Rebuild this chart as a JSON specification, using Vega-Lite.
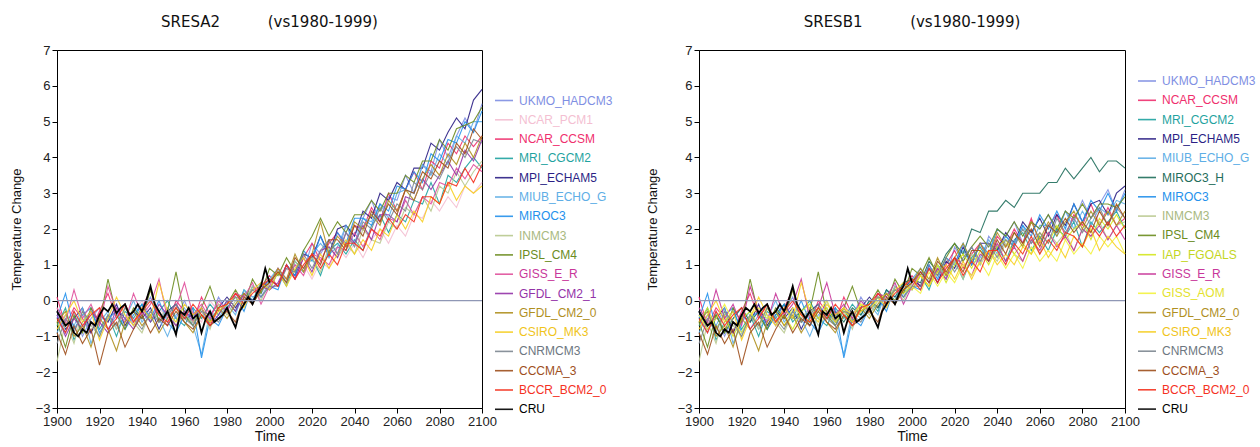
{
"$schema":"https://vega.github.io/schema/vega-lite/v6.json",
"padding":{"left":9,"top":14,"right":0,"bottom":0},
"background":"white",
"config":{
 "view":{"stroke":"#000","strokeWidth":1},
 "font":"Liberation Sans",
 "axis":{"domainColor":"#000","domainWidth":1,"tickColor":"#000","tickSize":5,"labelFont":"Liberation Sans","labelFontSize":13,"labelColor":"#222","titleFont":"Liberation Sans","titleFontWeight":"normal","titleColor":"#111","grid":false,"labelPadding":2,"labelOverlap":false},
 "axisX":{"titleFontSize":14,"titlePadding":1,"labelFlush":false},
 "axisY":{"titleFontSize":13,"titlePadding":12},
 "title":{"font":"DejaVu Sans","fontSize":15,"fontWeight":"normal","color":"#111","anchor":"middle","baseline":"alphabetic","offset":14},
 "legend":{"orient":"none","symbolType":"stroke","symbolSize":324,"symbolStrokeWidth":1.6,"labelFont":"Liberation Sans","labelFontSize":12,"labelOffset":5,"clipHeight":19,"rowPadding":0.3,"padding":0,"labelLimit":200,
  "labelColor":{"expr":"['#7f8fe3','#f4bfd2','#ef2f6e','#1fa3a0','#2b1f85','#5eaee6','#1f6e5c','#2491ec','#a9b97f','#6b8c1e','#c4d61e','#c8379a','#e3e22e','#9333a8','#b0901f','#f0c41a','#6d7781','#9e4f1c','#f5321f','#000000'][indexof(['UKMO_HADCM3','NCAR_PCM1','NCAR_CCSM','MRI_CGCM2','MPI_ECHAM5','MIUB_ECHO_G','MIROC3_H','MIROC3','INMCM3','IPSL_CM4','IAP_FGOALS','GISS_E_R','GISS_AOM','GFDL_CM2_1','GFDL_CM2_0','CSIRO_MK3','CNRMCM3','CCCMA_3','BCCR_BCM2_0','CRU'], datum.value)]"}}
},
"datasets":{
 "names":[{"k":"a","name":"UKMO_HADCM3"},{"k":"b","name":"NCAR_PCM1"},{"k":"c","name":"NCAR_CCSM"},{"k":"d","name":"MRI_CGCM2"},{"k":"e","name":"MPI_ECHAM5"},{"k":"f","name":"MIUB_ECHO_G"},{"k":"g","name":"MIROC3"},{"k":"h","name":"INMCM3"},{"k":"i","name":"IPSL_CM4"},{"k":"j","name":"GISS_E_R"},{"k":"k","name":"GFDL_CM2_1"},{"k":"l","name":"GFDL_CM2_0"},{"k":"m","name":"CSIRO_MK3"},{"k":"n","name":"CNRMCM3"},{"k":"o","name":"CCCMA_3"},{"k":"p","name":"BCCR_BCM2_0"},{"k":"q","name":"MIROC3_H"},{"k":"r","name":"IAP_FGOALS"},{"k":"s","name":"GISS_AOM"}],
 "runs":[
  {"sc":"H","t":1900,"a":-0.4,"b":-0.2,"c":0.1,"d":-0.7,"e":-0.3,"f":-0.9,"g":-0.5,"h":-1.7,"i":-0.6,"j":-0.2,"k":-0.4,"l":-0.6,"m":-0.8,"n":-1.2,"o":-0.9,"p":-0.5,"q":-0.3,"r":-0.6,"s":-0.4},
  {"sc":"H","t":1904,"a":-0.9,"b":-0.6,"c":-0.7,"d":-0.2,"e":-0.8,"f":-0.4,"g":0.2,"h":-0.6,"i":-1.3,"j":-0.6,"k":-1.0,"l":-0.3,"m":-0.4,"n":-0.5,"o":-1.5,"p":-0.9,"q":-0.7,"r":-0.2,"s":-0.8},
  {"sc":"H","t":1908,"a":-0.3,"b":-0.9,"c":-0.2,"d":-1.1,"e":-0.5,"f":-0.7,"g":-0.8,"h":-1.2,"i":-0.4,"j":0.3,"k":-0.5,"l":-1.0,"m":0.0,"n":-0.9,"o":-0.7,"p":-0.3,"q":-0.4,"r":-0.8,"s":-0.5},
  {"sc":"H","t":1912,"a":-1.0,"b":-0.4,"c":-0.5,"d":-0.6,"e":-0.2,"f":-0.2,"g":-0.4,"h":-0.3,"i":-0.9,"j":-0.5,"k":-0.8,"l":-0.7,"m":-0.6,"n":-0.3,"o":-1.2,"p":-0.7,"q":-0.9,"r":-0.4,"s":-0.1},
  {"sc":"H","t":1916,"a":-0.5,"b":-0.7,"c":-0.9,"d":-0.3,"e":-0.9,"f":-1.2,"g":-0.2,"h":-0.7,"i":-0.2,"j":-0.1,"k":-0.3,"l":-1.3,"m":-0.3,"n":-0.6,"o":-0.8,"p":-0.4,"q":-0.5,"r":-1.0,"s":-0.6},
  {"sc":"H","t":1920,"a":-0.2,"b":-0.3,"c":-0.3,"d":-0.8,"e":-0.4,"f":-0.6,"g":-0.9,"h":-1.0,"i":-0.6,"j":-0.7,"k":-0.6,"l":-0.5,"m":-1.1,"n":-1.0,"o":-1.8,"p":-0.2,"q":-0.2,"r":-0.5,"s":-0.9},
  {"sc":"H","t":1924,"a":-0.8,"b":-0.6,"c":0.2,"d":-0.4,"e":-0.6,"f":-0.3,"g":-0.5,"h":-0.4,"i":0.6,"j":0.4,"k":-0.9,"l":-0.8,"m":-0.5,"n":-0.4,"o":-0.9,"p":-0.8,"q":-0.6,"r":-0.3,"s":-0.4},
  {"sc":"H","t":1928,"a":-0.4,"b":-0.2,"c":-0.5,"d":-1.0,"e":-0.1,"f":-0.8,"g":-0.3,"h":-0.8,"i":-0.4,"j":-0.3,"k":-0.2,"l":-1.4,"m":0.1,"n":-0.7,"o":-0.6,"p":-0.5,"q":-0.3,"r":-0.7,"s":-0.2},
  {"sc":"H","t":1932,"a":-0.1,"b":-0.5,"c":-0.1,"d":-0.3,"e":-0.7,"f":-0.5,"g":-0.8,"h":-0.2,"i":-0.8,"j":-0.6,"k":-0.5,"l":-0.6,"m":-0.4,"n":-0.2,"o":-1.3,"p":-0.1,"q":-0.8,"r":-0.2,"s":-0.5},
  {"sc":"H","t":1936,"a":-0.7,"b":-0.3,"c":-0.6,"d":-0.5,"e":-0.3,"f":0.0,"g":-0.4,"h":-0.6,"i":-0.2,"j":0.2,"k":-0.8,"l":-0.3,"m":-0.7,"n":-0.5,"o":-0.8,"p":-0.6,"q":-0.4,"r":-0.6,"s":-0.3},
  {"sc":"H","t":1940,"a":-0.3,"b":0.0,"c":-0.2,"d":-0.1,"e":-0.5,"f":-0.6,"g":-0.1,"h":-0.9,"i":-0.5,"j":-0.4,"k":-0.3,"l":-0.7,"m":-0.2,"n":-0.8,"o":-0.4,"p":-0.3,"q":-0.1,"r":-0.4,"s":-0.7},
  {"sc":"H","t":1944,"a":0.1,"b":-0.4,"c":0.3,"d":-0.6,"e":-0.2,"f":-0.3,"g":-0.5,"h":-0.3,"i":0.3,"j":-0.1,"k":-0.6,"l":-0.4,"m":-0.5,"n":-0.3,"o":-0.9,"p":0.0,"q":-0.5,"r":-0.8,"s":-0.2},
  {"sc":"H","t":1948,"a":-0.6,"b":-0.2,"c":-0.4,"d":-0.3,"e":-0.8,"f":-0.5,"g":0.0,"h":-0.5,"i":-0.6,"j":0.6,"k":-0.1,"l":-0.9,"m":0.5,"n":-0.6,"o":-0.5,"p":-0.4,"q":-0.3,"r":-0.3,"s":-0.4},
  {"sc":"H","t":1952,"a":-0.2,"b":-0.5,"c":-0.7,"d":0.0,"e":-0.3,"f":-1.0,"g":-0.6,"h":-0.2,"i":-0.3,"j":-0.5,"k":-0.4,"l":-0.5,"m":-0.3,"n":-0.4,"o":-0.7,"p":-0.6,"q":-0.7,"r":-0.1,"s":-0.6},
  {"sc":"H","t":1956,"a":-0.5,"b":-0.1,"c":0.0,"d":-0.5,"e":-0.1,"f":-0.4,"g":-0.9,"h":-0.7,"i":0.8,"j":-0.2,"k":-0.7,"l":-0.2,"m":-0.6,"n":-0.1,"o":-0.3,"p":-0.2,"q":-0.2,"r":-0.5,"s":-0.3},
  {"sc":"H","t":1960,"a":0.0,"b":-0.4,"c":-0.3,"d":-0.7,"e":-0.5,"f":-0.2,"g":-0.4,"h":-0.4,"i":-0.4,"j":0.5,"k":-0.3,"l":-0.6,"m":-0.1,"n":-0.5,"o":-0.6,"p":-0.5,"q":-0.5,"r":-0.2,"s":0.0},
  {"sc":"H","t":1964,"a":-0.6,"b":-0.3,"c":-0.6,"d":-0.2,"e":-0.4,"f":-0.7,"g":-0.2,"h":-0.6,"i":-0.7,"j":-0.4,"k":-0.5,"l":-0.9,"m":-0.4,"n":-0.7,"o":-0.8,"p":-0.1,"q":-0.3,"r":-0.6,"s":-0.5},
  {"sc":"H","t":1968,"a":-0.3,"b":-0.6,"c":0.1,"d":-0.5,"e":-0.2,"f":-1.5,"g":-1.6,"h":-0.3,"i":-0.2,"j":-0.1,"k":-0.2,"l":-0.4,"m":-0.2,"n":-0.3,"o":-0.4,"p":-0.4,"q":-0.6,"r":-0.3,"s":-0.2},
  {"sc":"H","t":1972,"a":-0.5,"b":0.0,"c":-0.4,"d":-0.1,"e":-0.6,"f":-0.3,"g":-0.5,"h":-0.8,"i":0.4,"j":-0.5,"k":-0.7,"l":-0.6,"m":-0.6,"n":-0.4,"o":-0.7,"p":-0.7,"q":-0.2,"r":-0.5,"s":-0.4},
  {"sc":"H","t":1976,"a":0.1,"b":-0.3,"c":-0.1,"d":-0.4,"e":-0.2,"f":-0.5,"g":-0.7,"h":-0.1,"i":-0.3,"j":0.0,"k":-0.4,"l":-0.2,"m":-0.3,"n":-0.6,"o":-0.5,"p":-0.2,"q":-0.4,"r":-0.1,"s":-0.1},
  {"sc":"H","t":1980,"a":-0.3,"b":-0.1,"c":-0.3,"d":0.0,"e":0.1,"f":-0.1,"g":-0.2,"h":-0.4,"i":-0.1,"j":-0.3,"k":0.0,"l":-0.5,"m":-0.1,"n":-0.2,"o":-0.3,"p":-0.1,"q":0.0,"r":-0.3,"s":-0.2},
  {"sc":"H","t":1984,"a":0.2,"b":0.2,"c":0.2,"d":-0.3,"e":-0.2,"f":-0.4,"g":0.1,"h":0.0,"i":0.3,"j":0.2,"k":-0.3,"l":-0.1,"m":0.1,"n":0.1,"o":-0.6,"p":0.2,"q":-0.2,"r":0.1,"s":0.0},
  {"sc":"H","t":1988,"a":-0.1,"b":0.0,"c":0.0,"d":0.3,"e":0.2,"f":0.3,"g":-0.3,"h":-0.1,"i":-0.1,"j":0.1,"k":0.2,"l":0.2,"m":-0.2,"n":0.0,"o":0.1,"p":-0.1,"q":0.3,"r":0.0,"s":0.2},
  {"sc":"H","t":1992,"a":0.4,"b":0.3,"c":0.3,"d":0.0,"e":0.0,"f":0.1,"g":0.4,"h":0.4,"i":0.6,"j":0.5,"k":-0.1,"l":-0.1,"m":0.3,"n":0.3,"o":-0.1,"p":0.2,"q":0.1,"r":0.3,"s":0.0},
  {"sc":"H","t":1996,"a":0.1,"b":0.5,"c":0.4,"d":0.5,"e":0.3,"f":0.2,"g":0.1,"h":0.0,"i":0.2,"j":-0.1,"k":0.4,"l":0.3,"m":0.5,"n":0.1,"o":0.3,"p":0.4,"q":0.5,"r":0.2,"s":0.3},
  {"sc":"H","t":2000,"a":0.5,"b":0.4,"c":0.7,"d":0.3,"e":0.6,"f":0.6,"g":0.4,"h":0.5,"i":0.9,"j":0.4,"k":0.3,"l":0.5,"m":0.3,"n":0.4,"o":0.5,"p":0.6,"q":0.6,"r":0.4,"s":0.4},
  {"sc":"A2","t":2000,"a":0.5,"b":0.4,"c":0.7,"d":0.3,"e":0.6,"f":0.6,"g":0.4,"h":0.5,"i":0.9,"j":0.4,"k":0.3,"l":0.5,"m":0.3,"n":0.4,"o":0.5,"p":0.6},
  {"sc":"A2","t":2004,"a":0.9,"b":0.4,"c":0.4,"d":0.8,"e":0.4,"f":0.9,"g":0.3,"h":0.8,"i":0.7,"j":0.9,"k":0.5,"l":0.9,"m":0.8,"n":0.4,"o":0.8,"p":0.4},
  {"sc":"A2","t":2008,"a":0.5,"b":0.9,"c":1.0,"d":0.4,"e":1.0,"f":0.5,"g":1.0,"h":0.5,"i":1.2,"j":0.6,"k":1.0,"l":0.6,"m":0.4,"n":0.9,"o":0.5,"p":1.0},
  {"sc":"A2","t":2012,"a":1.0,"b":0.6,"c":0.6,"d":1.1,"e":0.7,"f":1.1,"g":0.7,"h":1.1,"i":0.8,"j":1.0,"k":0.6,"l":1.3,"m":0.9,"n":0.8,"o":1.2,"p":0.6},
  {"sc":"A2","t":2016,"a":0.8,"b":1.0,"c":1.2,"d":0.8,"e":1.3,"f":0.8,"g":1.4,"h":0.8,"i":1.4,"j":0.7,"k":1.2,"l":0.8,"m":1.2,"n":1.3,"o":0.9,"p":1.0},
  {"sc":"A2","t":2020,"a":1.6,"b":0.6,"c":1.6,"d":1.2,"e":1.2,"f":1.3,"g":1.1,"h":1.2,"i":1.8,"j":1.3,"k":0.8,"l":1.3,"m":0.7,"n":0.9,"o":1.3,"p":1.3},
  {"sc":"A2","t":2024,"a":1.3,"b":1.1,"c":1.1,"d":0.7,"e":1.8,"f":1.6,"g":1.8,"h":0.8,"i":2.3,"j":1.2,"k":1.4,"l":2.2,"m":1.3,"n":1.4,"o":1.0,"p":0.9},
  {"sc":"A2","t":2028,"a":1.7,"b":0.9,"c":1.6,"d":1.4,"e":1.3,"f":1.3,"g":1.2,"h":1.5,"i":1.8,"j":1.0,"k":1.5,"l":1.3,"m":0.9,"n":1.7,"o":1.7,"p":1.3},
  {"sc":"A2","t":2032,"a":1.3,"b":1.5,"c":1.9,"d":1.6,"e":2.0,"f":1.5,"g":1.9,"h":1.2,"i":2.2,"j":1.5,"k":1.2,"l":1.8,"m":1.3,"n":1.3,"o":1.7,"p":1.0},
  {"sc":"A2","t":2036,"a":2.1,"b":1.2,"c":1.5,"d":1.3,"e":2.1,"f":2.1,"g":1.6,"h":1.6,"i":1.9,"j":1.4,"k":1.9,"l":1.5,"m":1.7,"n":1.9,"o":1.4,"p":1.6},
  {"sc":"A2","t":2040,"a":1.8,"b":1.6,"c":2.1,"d":1.7,"e":1.8,"f":1.6,"g":2.3,"h":1.3,"i":2.4,"j":1.9,"k":1.6,"l":2.2,"m":1.3,"n":1.5,"o":2.1,"p":1.6},
  {"sc":"A2","t":2044,"a":2.3,"b":1.2,"c":2.0,"d":1.4,"e":2.5,"f":2.3,"g":2.3,"h":2.0,"i":2.4,"j":1.5,"k":2.1,"l":2.0,"m":1.7,"n":2.2,"o":1.8,"p":1.4},
  {"sc":"A2","t":2048,"a":2.8,"b":1.7,"c":2.6,"d":2.1,"e":2.3,"f":2.2,"g":2.1,"h":1.7,"i":2.8,"j":2.0,"k":1.7,"l":2.4,"m":1.4,"n":2.0,"o":2.5,"p":2.0},
  {"sc":"A2","t":2052,"a":2.2,"b":2.0,"c":2.2,"d":2.4,"e":3.0,"f":2.7,"g":2.7,"h":1.6,"i":2.5,"j":1.7,"k":2.4,"l":2.1,"m":2.0,"n":2.6,"o":2.2,"p":1.8},
  {"sc":"A2","t":2056,"a":2.9,"b":1.6,"c":3.0,"d":1.9,"e":2.8,"f":2.3,"g":2.5,"h":2.2,"i":3.0,"j":2.3,"k":2.4,"l":2.8,"m":1.8,"n":2.2,"o":2.7,"p":2.3},
  {"sc":"A2","t":2060,"a":2.8,"b":2.1,"c":2.5,"d":2.4,"e":3.3,"f":3.0,"g":3.2,"h":2.0,"i":3.0,"j":2.2,"k":2.2,"l":2.5,"m":2.4,"n":2.7,"o":2.4,"p":2.0},
  {"sc":"A2","t":2064,"a":3.5,"b":1.8,"c":3.1,"d":2.2,"e":3.1,"f":3.1,"g":3.1,"h":2.6,"i":3.5,"j":2.8,"k":2.9,"l":3.1,"m":2.0,"n":2.5,"o":3.1,"p":2.4},
  {"sc":"A2","t":2068,"a":3.0,"b":2.4,"c":3.6,"d":2.8,"e":3.7,"f":3.0,"g":3.6,"h":2.4,"i":3.3,"j":2.4,"k":2.8,"l":2.8,"m":2.5,"n":3.3,"o":3.0,"p":2.2},
  {"sc":"A2","t":2072,"a":3.8,"b":2.3,"c":3.1,"d":2.7,"e":3.7,"f":3.8,"g":3.3,"h":2.9,"i":3.9,"j":2.9,"k":3.4,"l":3.4,"m":2.2,"n":3.1,"o":3.6,"p":2.9},
  {"sc":"A2","t":2076,"a":3.6,"b":2.8,"c":3.9,"d":3.3,"e":4.4,"f":3.5,"g":4.1,"h":2.5,"i":3.9,"j":2.7,"k":3.1,"l":3.8,"m":2.9,"n":3.6,"o":3.4,"p":2.9},
  {"sc":"A2","t":2080,"a":4.5,"b":2.5,"c":3.7,"d":2.7,"e":4.2,"f":4.1,"g":3.9,"h":3.2,"i":4.5,"j":3.3,"k":3.5,"l":3.5,"m":2.7,"n":3.4,"o":3.9,"p":2.7},
  {"sc":"A2","t":2084,"a":4.0,"b":2.9,"c":4.4,"d":3.5,"e":4.7,"f":3.8,"g":4.5,"h":3.0,"i":4.2,"j":3.2,"k":3.9,"l":4.1,"m":3.3,"n":3.9,"o":3.7,"p":3.3},
  {"sc":"A2","t":2088,"a":4.6,"b":2.6,"c":4.1,"d":3.3,"e":5.1,"f":4.6,"g":4.4,"h":3.6,"i":4.8,"j":3.7,"k":3.5,"l":3.8,"m":2.8,"n":4.3,"o":4.4,"p":3.2},
  {"sc":"A2","t":2092,"a":5.1,"b":3.2,"c":4.6,"d":3.7,"e":4.8,"f":4.4,"g":5.0,"h":3.2,"i":4.9,"j":3.4,"k":4.2,"l":4.4,"m":3.2,"n":4.0,"o":4.1,"p":3.7},
  {"sc":"A2","t":2096,"a":4.7,"b":3.0,"c":4.3,"d":4.0,"e":5.6,"f":5.0,"g":4.7,"h":3.6,"i":5.0,"j":3.8,"k":3.9,"l":4.0,"m":3.0,"n":4.5,"o":4.8,"p":3.3},
  {"sc":"A2","t":2100,"a":5.5,"b":3.3,"c":4.6,"d":3.7,"e":5.9,"f":5.0,"g":5.3,"h":3.9,"i":5.4,"j":3.6,"k":4.5,"l":4.6,"m":3.2,"n":4.4,"o":4.5,"p":3.8},
  {"sc":"B1","t":2000,"a":0.5,"c":0.7,"d":0.3,"e":0.6,"f":0.6,"q":0.6,"g":0.4,"h":0.5,"i":0.9,"r":0.4,"j":0.4,"s":0.4,"l":0.5,"m":0.3,"n":0.4,"o":0.5,"p":0.6},
  {"sc":"B1","t":2004,"a":0.9,"c":0.4,"d":0.7,"e":0.4,"f":0.9,"q":0.5,"g":0.3,"h":0.7,"i":0.7,"r":0.7,"j":0.8,"s":0.2,"l":0.9,"m":0.7,"n":0.4,"o":0.8,"p":0.3},
  {"sc":"B1","t":2008,"a":0.5,"c":1.0,"d":0.3,"e":0.9,"f":0.5,"q":1.1,"g":1.0,"h":0.4,"i":1.2,"r":0.4,"j":0.5,"s":0.8,"l":0.6,"m":0.4,"n":0.9,"o":0.5,"p":0.9},
  {"sc":"B1","t":2012,"a":0.9,"c":0.5,"d":1.0,"e":0.5,"f":1.0,"q":0.8,"g":0.6,"h":1.0,"i":0.7,"r":1.0,"j":0.9,"s":0.4,"l":1.2,"m":0.8,"n":0.7,"o":1.1,"p":0.5},
  {"sc":"B1","t":2016,"a":0.6,"c":1.0,"d":0.7,"e":1.1,"f":0.6,"q":1.3,"g":1.2,"h":0.7,"i":1.2,"r":0.5,"j":0.6,"s":0.8,"l":0.7,"m":1.0,"n":1.2,"o":0.8,"p":0.9},
  {"sc":"B1","t":2020,"a":1.5,"c":1.4,"d":1.1,"e":0.9,"f":1.1,"q":1.6,"g":1.0,"h":1.1,"i":1.6,"r":1.0,"j":1.2,"s":0.5,"l":1.2,"m":0.6,"n":0.8,"o":1.2,"p":1.2},
  {"sc":"B1","t":2024,"a":1.1,"c":0.9,"d":0.6,"e":1.5,"f":1.4,"q":1.3,"g":1.6,"h":0.6,"i":1.1,"r":1.3,"j":1.0,"s":1.0,"l":1.6,"m":1.1,"n":1.2,"o":0.8,"p":0.7},
  {"sc":"B1","t":2028,"a":1.5,"c":1.3,"d":1.2,"e":1.0,"f":1.0,"q":2.0,"g":1.0,"h":1.3,"i":1.5,"r":0.9,"j":0.7,"s":0.7,"l":1.1,"m":0.6,"n":1.5,"o":1.4,"p":1.1},
  {"sc":"B1","t":2032,"a":1.0,"c":1.6,"d":1.5,"e":1.6,"f":1.2,"q":1.9,"g":1.6,"h":1.0,"i":1.8,"r":1.4,"j":1.3,"s":1.1,"l":1.6,"m":1.1,"n":1.1,"o":1.4,"p":0.8},
  {"sc":"B1","t":2036,"a":1.8,"c":1.1,"d":1.1,"e":1.6,"f":1.7,"q":2.5,"g":1.3,"h":1.4,"i":1.5,"r":1.0,"j":1.1,"s":0.7,"l":1.2,"m":1.4,"n":1.6,"o":1.1,"p":1.4},
  {"sc":"B1","t":2040,"a":1.5,"c":1.8,"d":1.5,"e":1.4,"f":1.3,"q":2.5,"g":2.0,"h":1.1,"i":2.0,"r":1.5,"j":1.6,"s":1.3,"l":1.9,"m":1.0,"n":1.2,"o":1.7,"p":1.4},
  {"sc":"B1","t":2044,"a":1.8,"c":1.5,"d":1.1,"e":1.9,"f":1.8,"q":2.8,"g":1.8,"h":1.6,"i":1.8,"r":1.7,"j":1.1,"s":0.9,"l":1.5,"m":1.3,"n":1.7,"o":1.3,"p":1.0},
  {"sc":"B1","t":2048,"a":2.2,"c":2.0,"d":1.7,"e":1.6,"f":1.6,"q":2.6,"g":1.5,"h":1.3,"i":2.2,"r":1.3,"j":1.5,"s":1.3,"l":1.9,"m":1.0,"n":1.5,"o":1.9,"p":1.6},
  {"sc":"B1","t":2052,"a":1.6,"c":1.6,"d":1.9,"e":2.2,"f":2.1,"q":3.0,"g":2.1,"h":1.1,"i":1.8,"r":1.6,"j":1.1,"s":0.9,"l":1.5,"m":1.5,"n":2.0,"o":1.6,"p":1.3},
  {"sc":"B1","t":2056,"a":2.2,"c":2.3,"d":1.4,"e":1.9,"f":1.6,"q":3.0,"g":1.8,"h":1.7,"i":2.2,"r":1.3,"j":1.7,"s":1.5,"l":2.2,"m":1.3,"n":1.6,"o":2.0,"p":1.8},
  {"sc":"B1","t":2060,"a":2.0,"c":1.6,"d":1.8,"e":2.3,"f":2.1,"q":3.0,"g":2.4,"h":1.3,"i":2.0,"r":1.9,"j":1.4,"s":1.1,"l":1.7,"m":1.7,"n":1.9,"o":1.5,"p":1.3},
  {"sc":"B1","t":2064,"a":2.4,"c":2.1,"d":1.4,"e":1.8,"f":2.1,"q":3.3,"g":2.0,"h":1.9,"i":2.4,"r":1.6,"j":1.9,"s":1.4,"l":2.2,"m":1.2,"n":1.6,"o":2.1,"p":1.7},
  {"sc":"B1","t":2068,"a":1.9,"c":2.4,"d":2.0,"e":2.4,"f":1.8,"q":3.3,"g":2.5,"h":1.6,"i":2.0,"r":2.1,"j":1.5,"s":1.1,"l":1.8,"m":1.6,"n":2.3,"o":1.9,"p":1.4},
  {"sc":"B1","t":2072,"a":2.5,"c":1.8,"d":1.8,"e":2.1,"f":2.5,"q":3.7,"g":2.0,"h":1.9,"i":2.5,"r":1.7,"j":1.8,"s":1.7,"l":2.2,"m":1.2,"n":1.9,"o":2.3,"p":1.9},
  {"sc":"B1","t":2076,"a":2.2,"c":2.4,"d":2.2,"e":2.7,"f":2.0,"q":3.4,"g":2.7,"h":1.4,"i":2.3,"r":2.0,"j":1.4,"s":1.3,"l":2.5,"m":1.8,"n":2.3,"o":1.9,"p":1.8},
  {"sc":"B1","t":2080,"a":2.8,"c":2.1,"d":1.5,"e":2.2,"f":2.5,"q":3.7,"g":2.2,"h":2.0,"i":2.7,"r":2.2,"j":2.0,"s":1.6,"l":2.0,"m":1.5,"n":1.9,"o":2.2,"p":1.5},
  {"sc":"B1","t":2084,"a":2.3,"c":2.7,"d":2.2,"e":2.7,"f":2.1,"q":4.0,"g":2.8,"h":1.8,"i":2.3,"r":1.7,"j":1.8,"s":1.3,"l":2.5,"m":2.0,"n":2.3,"o":1.9,"p":2.1},
  {"sc":"B1","t":2088,"a":2.7,"c":2.1,"d":1.9,"e":2.8,"f":2.6,"q":3.6,"g":2.5,"h":2.2,"i":2.7,"r":2.3,"j":2.1,"s":1.8,"l":2.1,"m":1.4,"n":2.6,"o":2.5,"p":1.8},
  {"sc":"B1","t":2092,"a":3.1,"c":2.6,"d":2.2,"e":2.4,"f":2.4,"q":3.9,"g":3.0,"h":1.7,"i":2.7,"r":2.0,"j":1.7,"s":1.5,"l":2.5,"m":1.8,"n":2.1,"o":2.1,"p":2.2},
  {"sc":"B1","t":2096,"a":2.5,"c":2.1,"d":2.5,"e":3.0,"f":2.8,"q":3.9,"g":2.5,"h":2.1,"i":2.6,"r":2.4,"j":2.1,"s":1.8,"l":2.1,"m":1.5,"n":2.6,"o":2.7,"p":1.8},
  {"sc":"B1","t":2100,"a":3.1,"c":2.3,"d":2.0,"e":3.2,"f":2.7,"q":3.7,"g":3.0,"h":2.2,"i":2.9,"r":2.0,"j":1.7,"s":1.3,"l":2.5,"m":1.3,"n":2.3,"o":2.3,"p":2.1}
 ],
 "cru":[
  {"t":1900,"v":-0.3},{"t":1902,"v":-0.5},{"t":1904,"v":-0.7},{"t":1906,"v":-0.6},{"t":1908,"v":-0.9},{"t":1910,"v":-1.0},{"t":1912,"v":-0.8},{"t":1914,"v":-0.9},{"t":1916,"v":-0.6},{"t":1918,"v":-0.7},
  {"t":1920,"v":-0.4},{"t":1922,"v":-0.2},{"t":1924,"v":-0.3},{"t":1926,"v":-0.1},{"t":1928,"v":-0.35},{"t":1930,"v":-0.2},{"t":1932,"v":-0.1},{"t":1934,"v":-0.4},{"t":1936,"v":-0.3},{"t":1938,"v":-0.1},
  {"t":1940,"v":-0.3},{"t":1942,"v":0.0},{"t":1944,"v":0.4},{"t":1946,"v":-0.1},{"t":1948,"v":-0.3},{"t":1950,"v":-0.5},{"t":1952,"v":-0.3},{"t":1954,"v":-0.6},{"t":1956,"v":-0.95},{"t":1958,"v":-0.3},
  {"t":1960,"v":-0.4},{"t":1962,"v":-0.2},{"t":1964,"v":-0.5},{"t":1966,"v":-0.4},{"t":1968,"v":-0.9},{"t":1970,"v":-0.5},{"t":1972,"v":-0.3},{"t":1974,"v":-0.6},{"t":1976,"v":-0.5},{"t":1978,"v":-0.4},
  {"t":1980,"v":-0.2},{"t":1982,"v":-0.5},{"t":1984,"v":-0.75},{"t":1986,"v":-0.3},{"t":1988,"v":-0.1},{"t":1990,"v":0.1},{"t":1992,"v":-0.1},{"t":1994,"v":0.2},{"t":1996,"v":0.4},{"t":1998,"v":0.9},{"t":2000,"v":0.5}
 ]
},
"spacing":31,
"resolve":{"scale":{"color":"independent"}},
"hconcat":[
 {
  "width":425,"height":358,
  "title":"SRESA2\u00a0\u00a0\u00a0\u00a0\u00a0\u00a0\u00a0\u00a0\u00a0\u00a0(vs1980-1999)",
  "layer":[
   {"data":{"name":"runs"},
    "transform":[{"filter":{"field":"sc","oneOf":["H","A2"]}},{"fold":["a","b","c","d","e","f","g","h","i","j","k","l","m","n","o","p"],"as":["k","v"]},{"lookup":"k","from":{"data":{"name":"names"},"key":"k","fields":["name"]}}],
    "mark":{"type":"line","strokeWidth":1.1,"opacity":0.9},
    "encoding":{
     "x":{"field":"t","type":"quantitative","title":"Time","scale":{"domain":[1900,2100],"nice":false,"zero":false},"axis":{"values":[1900,1920,1940,1960,1980,2000,2020,2040,2060,2080,2100],"format":"d","labelFlush":false,"labelOverlap":false}},
     "y":{"field":"v","type":"quantitative","title":"Temperature Change","scale":{"domain":[-3,7],"nice":false,"zero":false},"axis":{"values":[-3,-2,-1,0,1,2,3,4,5,6,7],"format":"d","labelOverlap":false,"tickCount":11}},
     "color":{"field":"name","type":"nominal",
      "scale":{"domain":["UKMO_HADCM3","NCAR_PCM1","NCAR_CCSM","MRI_CGCM2","MPI_ECHAM5","MIUB_ECHO_G","MIROC3","INMCM3","IPSL_CM4","GISS_E_R","GFDL_CM2_1","GFDL_CM2_0","CSIRO_MK3","CNRMCM3","CCCMA_3","BCCR_BCM2_0","CRU"],
               "range":["#7f8fe3","#f4bfd2","#ef2f6e","#1fa3a0","#2b1f85","#5eaee6","#2491ec","#b9c98f","#6b8c1e","#e0509c","#9333a8","#b0901f","#f7cf22","#7d8791","#9e4f1c","#f5321f","#000000"]},
      "legend":{"title":null,"legendX":437,"legendY":41}
     }
    }
   },
   {"data":{"name":"cru"},"mark":{"type":"line","color":"#000000","strokeWidth":1.8},
    "encoding":{"x":{"field":"t","type":"quantitative","title":"Time","scale":{"domain":[1900,2100],"nice":false,"zero":false}},"y":{"field":"v","type":"quantitative","title":"Temperature Change","scale":{"domain":[-3,7],"nice":false,"zero":false}}}},
   {"data":{"values":[{}]},"mark":{"type":"rule","color":"#8f97b5","strokeWidth":1.3},
    "encoding":{"y":{"datum":0,"type":"quantitative"}}}
  ]
 },
 {
  "width":426,"height":358,
  "title":"SRESB1\u00a0\u00a0\u00a0\u00a0\u00a0\u00a0\u00a0\u00a0\u00a0\u00a0(vs1980-1999)",
  "layer":[
   {"data":{"name":"runs"},
    "transform":[{"filter":{"field":"sc","oneOf":["H","B1"]}},{"fold":["a","c","d","e","f","q","g","h","i","r","j","s","l","m","n","o","p"],"as":["k","v"]},{"lookup":"k","from":{"data":{"name":"names"},"key":"k","fields":["name"]}}],
    "mark":{"type":"line","strokeWidth":1.1,"opacity":0.9},
    "encoding":{
     "x":{"field":"t","type":"quantitative","title":"Time","scale":{"domain":[1900,2100],"nice":false,"zero":false},"axis":{"values":[1900,1920,1940,1960,1980,2000,2020,2040,2060,2080,2100],"format":"d","labelFlush":false,"labelOverlap":false}},
     "y":{"field":"v","type":"quantitative","title":"Temperature Change","scale":{"domain":[-3,7],"nice":false,"zero":false},"axis":{"values":[-3,-2,-1,0,1,2,3,4,5,6,7],"format":"d","titlePadding":18,"labelOverlap":false,"tickCount":11}},
     "color":{"field":"name","type":"nominal",
      "scale":{"domain":["UKMO_HADCM3","NCAR_CCSM","MRI_CGCM2","MPI_ECHAM5","MIUB_ECHO_G","MIROC3_H","MIROC3","INMCM3","IPSL_CM4","IAP_FGOALS","GISS_E_R","GISS_AOM","GFDL_CM2_0","CSIRO_MK3","CNRMCM3","CCCMA_3","BCCR_BCM2_0","CRU"],
               "range":["#7f8fe3","#ef2f6e","#1fa3a0","#2b1f85","#5eaee6","#1f6e5c","#2491ec","#b9c98f","#6b8c1e","#d4e61e","#c8379a","#f3f23e","#b0901f","#f7cf22","#7d8791","#9e4f1c","#f5321f","#000000"]},
      "legend":{"title":null,"legendX":438,"legendY":21.5}
     }
    }
   },
   {"data":{"name":"cru"},"mark":{"type":"line","color":"#000000","strokeWidth":1.8},
    "encoding":{"x":{"field":"t","type":"quantitative","title":"Time","scale":{"domain":[1900,2100],"nice":false,"zero":false}},"y":{"field":"v","type":"quantitative","title":"Temperature Change","scale":{"domain":[-3,7],"nice":false,"zero":false}}}},
   {"data":{"values":[{}]},"mark":{"type":"rule","color":"#8f97b5","strokeWidth":1.3},
    "encoding":{"y":{"datum":0,"type":"quantitative"}}}
  ]
 }
]
}
